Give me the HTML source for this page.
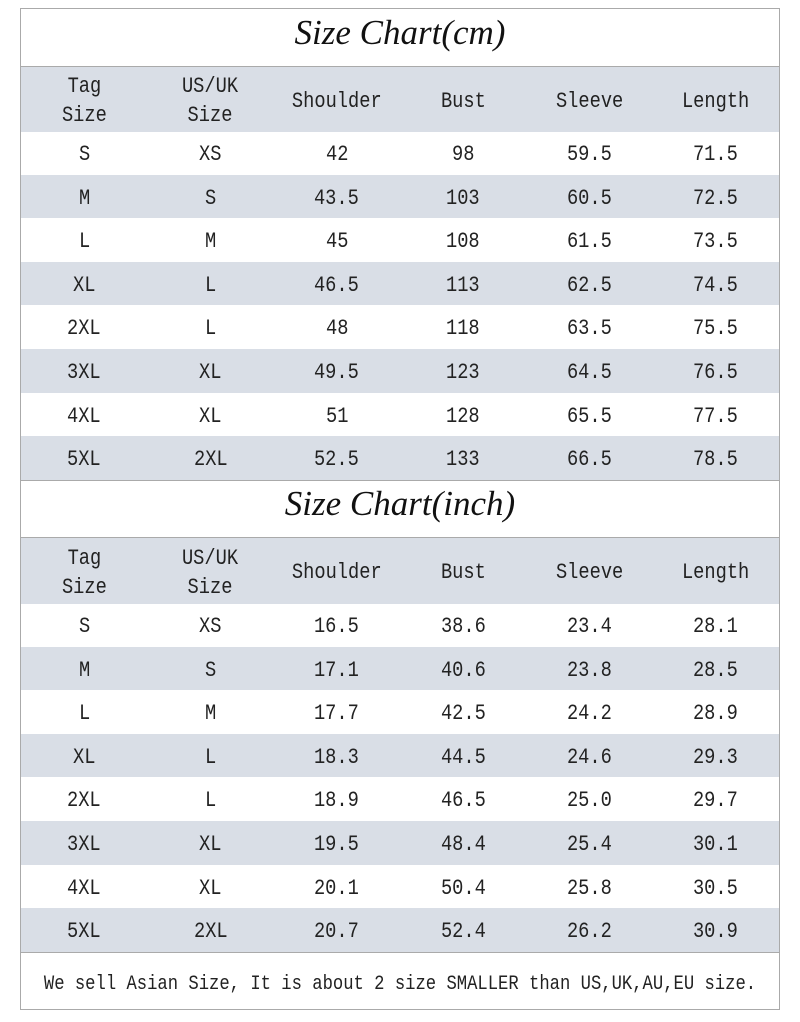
<!DOCTYPE html>
<html><head><meta charset="utf-8"><style>
body{margin:0;width:800px;height:1022px;background:#fff;position:relative;overflow:hidden;font-family:"Liberation Mono","Noto Serif CJK SC",monospace;color:#222}
.box{position:absolute;left:20px;top:8px;width:758px;height:1000px;border:1px solid #aaa;}
.t{position:absolute;left:20px;width:760px;text-align:center;font-family:"Liberation Serif",serif;font-style:italic;font-size:35px;color:#111}
.r{position:absolute;left:21px;width:758px;display:flex}
.g{background:#d9dee6}
.r div{width:126.33px;text-align:center;font-size:22px;display:flex;align-items:center;justify-content:center;line-height:29px;padding-top:3px;box-sizing:border-box}
.r div span{display:inline-block;transform:scaleX(0.85)}
.h{border-top:1px solid #aaa}
.f{position:absolute;left:-100px;width:1000px;text-align:center;top:973px;font-size:20px;transform:scaleX(0.86);transform-origin:center;white-space:nowrap}
</style></head><body>
<div class="box"></div>
<div class="t" style="top:13px">Size Chart(cm)</div>
<div class="r g h" style="top:66px;height:65px"><div><span>Tag<br>Size</span></div><div><span>US/UK<br>Size</span></div><div><span>Shoulder</span></div><div><span>Bust</span></div><div><span>Sleeve</span></div><div><span>Length</span></div></div>
<div class="r" style="top:131px;height:44px"><div><span>S</span></div><div><span>XS</span></div><div><span>42</span></div><div><span>98</span></div><div><span>59.5</span></div><div><span>71.5</span></div></div>
<div class="r g" style="top:175px;height:43px"><div><span>M</span></div><div><span>S</span></div><div><span>43.5</span></div><div><span>103</span></div><div><span>60.5</span></div><div><span>72.5</span></div></div>
<div class="r" style="top:218px;height:44px"><div><span>L</span></div><div><span>M</span></div><div><span>45</span></div><div><span>108</span></div><div><span>61.5</span></div><div><span>73.5</span></div></div>
<div class="r g" style="top:262px;height:43px"><div><span>XL</span></div><div><span>L</span></div><div><span>46.5</span></div><div><span>113</span></div><div><span>62.5</span></div><div><span>74.5</span></div></div>
<div class="r" style="top:305px;height:44px"><div><span>2XL</span></div><div><span>L</span></div><div><span>48</span></div><div><span>118</span></div><div><span>63.5</span></div><div><span>75.5</span></div></div>
<div class="r g" style="top:349px;height:44px"><div><span>3XL</span></div><div><span>XL</span></div><div><span>49.5</span></div><div><span>123</span></div><div><span>64.5</span></div><div><span>76.5</span></div></div>
<div class="r" style="top:393px;height:43px"><div><span>4XL</span></div><div><span>XL</span></div><div><span>51</span></div><div><span>128</span></div><div><span>65.5</span></div><div><span>77.5</span></div></div>
<div class="r g" style="top:436px;height:44px;border-bottom:1px solid #aaa"><div><span>5XL</span></div><div><span>2XL</span></div><div><span>52.5</span></div><div><span>133</span></div><div><span>66.5</span></div><div><span>78.5</span></div></div>
<div class="t" style="top:484px">Size Chart(inch)</div>
<div class="r g h" style="top:537px;height:66px"><div><span>Tag<br>Size</span></div><div><span>US/UK<br>Size</span></div><div><span>Shoulder</span></div><div><span>Bust</span></div><div><span>Sleeve</span></div><div><span>Length</span></div></div>
<div class="r" style="top:603px;height:44px"><div><span>S</span></div><div><span>XS</span></div><div><span>16.5</span></div><div><span>38.6</span></div><div><span>23.4</span></div><div><span>28.1</span></div></div>
<div class="r g" style="top:647px;height:43px"><div><span>M</span></div><div><span>S</span></div><div><span>17.1</span></div><div><span>40.6</span></div><div><span>23.8</span></div><div><span>28.5</span></div></div>
<div class="r" style="top:690px;height:44px"><div><span>L</span></div><div><span>M</span></div><div><span>17.7</span></div><div><span>42.5</span></div><div><span>24.2</span></div><div><span>28.9</span></div></div>
<div class="r g" style="top:734px;height:43px"><div><span>XL</span></div><div><span>L</span></div><div><span>18.3</span></div><div><span>44.5</span></div><div><span>24.6</span></div><div><span>29.3</span></div></div>
<div class="r" style="top:777px;height:44px"><div><span>2XL</span></div><div><span>L</span></div><div><span>18.9</span></div><div><span>46.5</span></div><div><span>25.0</span></div><div><span>29.7</span></div></div>
<div class="r g" style="top:821px;height:44px"><div><span>3XL</span></div><div><span>XL</span></div><div><span>19.5</span></div><div><span>48.4</span></div><div><span>25.4</span></div><div><span>30.1</span></div></div>
<div class="r" style="top:865px;height:43px"><div><span>4XL</span></div><div><span>XL</span></div><div><span>20.1</span></div><div><span>50.4</span></div><div><span>25.8</span></div><div><span>30.5</span></div></div>
<div class="r g" style="top:908px;height:44px;border-bottom:1px solid #aaa"><div><span>5XL</span></div><div><span>2XL</span></div><div><span>20.7</span></div><div><span>52.4</span></div><div><span>26.2</span></div><div><span>30.9</span></div></div>
<div class="f">We sell Asian Size, It is about 2 size SMALLER than US,UK,AU,EU size.</div>
</body></html>
